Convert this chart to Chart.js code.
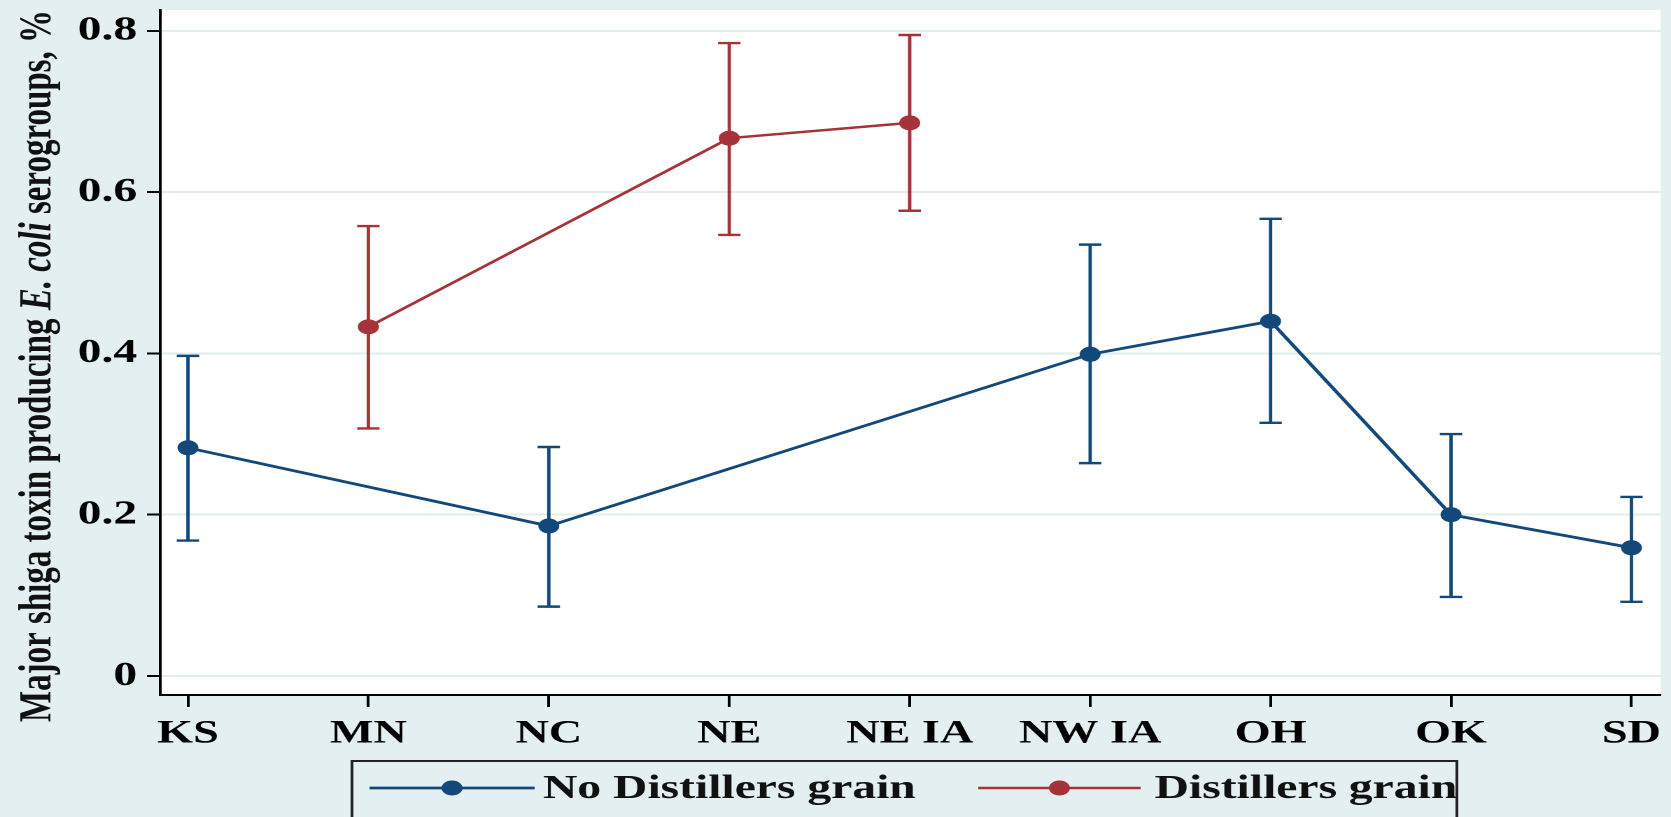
<!DOCTYPE html>
<html>
<head>
<meta charset="utf-8">
<script src="https://cdn.jsdelivr.net/npm/chart.js@4"></script>
<style>
  html, body { margin: 0; padding: 0; background: #e3eff1; overflow: hidden; }
  /* the original figure is stretched sideways, so the canvas is too */
  #chart { display: block; transform-origin: 0 0; transform: scaleX(1.3995); }
</style>
</head>
<body>
<canvas id="chart" width="1194" height="817"></canvas>
<script>
"use strict";

// Categories (states) on the x axis
const categories = ['KS', 'MN', 'NC', 'NE', 'NE IA', 'NW IA', 'OH', 'OK', 'SD'];

// No Distillers grain: mean and CI
const noDgMean = [0.283, null, 0.186, null, null, 0.399, 0.440, 0.200, 0.159];
const noDgLow  = [0.168, null, 0.086, null, null, 0.264, 0.314, 0.098, 0.092];
const noDgHigh = [0.397, null, 0.284, null, null, 0.535, 0.567, 0.300, 0.222];

// Distillers grain: mean and CI
const dgMean = [null, 0.433, null, 0.667, 0.686, null, null, null, null];
const dgLow  = [null, 0.307, null, 0.547, 0.577, null, null, null, null];
const dgHigh = [null, 0.558, null, 0.785, 0.795, null, null, null, null];

// Tick labels on the y axis
const yTicks = [0, 0.2, 0.4, 0.6, 0.8];

const blue = '#13497a';
const red = '#a6323a';
const serif = 'Liberation Serif';

// Turns a value list into {x, y} points, skipping empty categories
function toPoints(values) {
    return values.map((v, i) => v === null ? null : { x: i, y: v }).filter(p => p);
}

// Paints the background and the white plot area
const backgroundPlugin = {
    id: 'background',
    beforeDraw(chart) {
        const { ctx, chartArea: a } = chart;
        ctx.save();
        ctx.fillStyle = '#e3eff1';
        ctx.fillRect(0, 0, chart.width, chart.height);
        ctx.fillStyle = '#ffffff';
        ctx.fillRect(a.left, a.top, a.right - a.left, a.bottom - a.top);
        ctx.restore();
    }
};

// Draws the confidence interval bars with caps
const errorBarPlugin = {
    id: 'errorBars',
    beforeDatasetsDraw(chart) {
        const { ctx, scales: { x, y } } = chart;
        ctx.save();
        chart.data.datasets.forEach(ds => {
            ctx.strokeStyle = ds.borderColor;
            ctx.lineWidth = 2.4;
            ds.low.forEach((lo, i) => {
                if (lo === null) return;
                const px = x.getPixelForValue(i);
                const yLo = y.getPixelForValue(lo);
                const yHi = y.getPixelForValue(ds.high[i]);
                ctx.beginPath();
                ctx.moveTo(px, yLo);
                ctx.lineTo(px, yHi);
                ctx.moveTo(px - 8, yLo);
                ctx.lineTo(px + 8, yLo);
                ctx.moveTo(px - 8, yHi);
                ctx.lineTo(px + 8, yHi);
                ctx.stroke();
            });
        });
        ctx.restore();
    }
};

// Y axis title with italic E. coli
const titlePlugin = {
    id: 'yTitle',
    afterDraw(chart) {
        const ctx = chart.ctx;
        const parts = [
            ['Major shiga toxin producing ', 'bold'],
            ['E. coli', 'italic bold'],
            [' serogroups, %', 'bold']
        ];
        ctx.save();
        ctx.translate(36, 366);
        ctx.rotate(-Math.PI / 2);
        ctx.fillStyle = '#111';
        ctx.textBaseline = 'alphabetic';
        ctx.textAlign = 'left';
        let total = 0;
        parts.forEach(p => {
            ctx.font = p[1] + ' 33px "' + serif + '"';
            p.push(ctx.measureText(p[0]).width);
            total += p[2];
        });
        // squeeze to the length of the original title
        const fit = Math.min(1, 712 / total);
        ctx.scale(fit, 1);
        let pos = -total / 2;
        parts.forEach(p => {
            ctx.font = p[1] + ' 33px "' + serif + '"';
            ctx.fillText(p[0], pos, 0);
            pos += p[2];
        });
        ctx.restore();
    }
};

// Legend box at the bottom, running off the edge like in the figure
const legendPlugin = {
    id: 'boxLegend',
    afterDraw(chart) {
        const ctx = chart.ctx;
        const items = [
            { x0: 264, x1: 382, text: 388 },
            { x0: 699, x1: 815, text: 825 }
        ];
        const yMid = 788;
        ctx.save();
        ctx.strokeStyle = '#222';
        ctx.lineWidth = 2;
        ctx.strokeRect(251.5, 761, 1041 - 251.5, 100);
        chart.data.datasets.forEach((ds, i) => {
            const it = items[i];
            ctx.strokeStyle = ds.borderColor;
            ctx.lineWidth = ds.borderWidth;
            ctx.beginPath();
            ctx.moveTo(it.x0, yMid);
            ctx.lineTo(it.x1, yMid);
            ctx.stroke();
            ctx.fillStyle = ds.borderColor;
            ctx.beginPath();
            ctx.arc((it.x0 + it.x1) / 2, yMid, ds.pointRadius, 0, Math.PI * 2);
            ctx.fill();
            ctx.fillStyle = '#111';
            ctx.font = 'bold 34px "' + serif + '"';
            ctx.textBaseline = 'middle';
            ctx.fillText(ds.label, it.text, yMid + 1);
        });
        ctx.restore();
    }
};

new Chart(document.getElementById('chart'), {
    type: 'line',
    data: {
        datasets: [{
            label: 'No Distillers grain',
            data: toPoints(noDgMean),
            low: noDgLow,
            high: noDgHigh,
            borderColor: blue,
            backgroundColor: blue,
            borderWidth: 2.8,
            pointRadius: 7.5,
            pointHoverRadius: 7.5,
            pointBorderWidth: 0,
            tension: 0
        }, {
            label: 'Distillers grain',
            data: toPoints(dgMean),
            low: dgLow,
            high: dgHigh,
            borderColor: red,
            backgroundColor: red,
            borderWidth: 2.5,
            pointRadius: 7.5,
            pointHoverRadius: 7.5,
            pointBorderWidth: 0,
            tension: 0
        }]
    },
    options: {
        responsive: false,
        animation: false,
        devicePixelRatio: 2,
        layout: { padding: { top: 10, right: 6.4, left: 0, bottom: 0 } },
        plugins: {
            legend: { display: false },
            tooltip: { enabled: false }
        },
        scales: {
            x: {
                type: 'linear',
                min: -0.155,
                max: 8.161,
                afterBuildTicks: s => { s.ticks = categories.map((c, i) => ({ value: i })); },
                afterFit: s => {
                    s.height = 122;
                    s.paddingLeft = 0;
                    s.paddingRight = 0;
                },
                grid: { drawOnChartArea: false, tickLength: 12, tickColor: '#000', tickWidth: 2 },
                border: { color: '#000', width: 2 },
                ticks: {
                    callback: v => categories[v],
                    color: '#000',
                    font: { family: serif, weight: 'bold', size: 33 },
                    padding: 7,
                    autoSkip: false,
                    maxRotation: 0
                }
            },
            y: {
                min: -0.0236,
                max: 0.826,
                afterBuildTicks: s => { s.ticks = yTicks.map(v => ({ value: v })); },
                afterFit: s => {
                    s.width = 114.3;
                    s.paddingTop = 0;
                    s.paddingBottom = 0;
                },
                grid: { color: '#e2edee', lineWidth: 2, tickLength: 9.3, tickColor: '#000', tickWidth: 2 },
                border: { color: '#000', width: 2 },
                ticks: {
                    callback: v => v === 0 ? '0' : v.toFixed(1),
                    color: '#000',
                    font: { family: serif, weight: 'bold', size: 34 },
                    padding: 7
                }
            }
        }
    },
    plugins: [backgroundPlugin, errorBarPlugin, titlePlugin, legendPlugin]
});
</script>
</body>
</html>
